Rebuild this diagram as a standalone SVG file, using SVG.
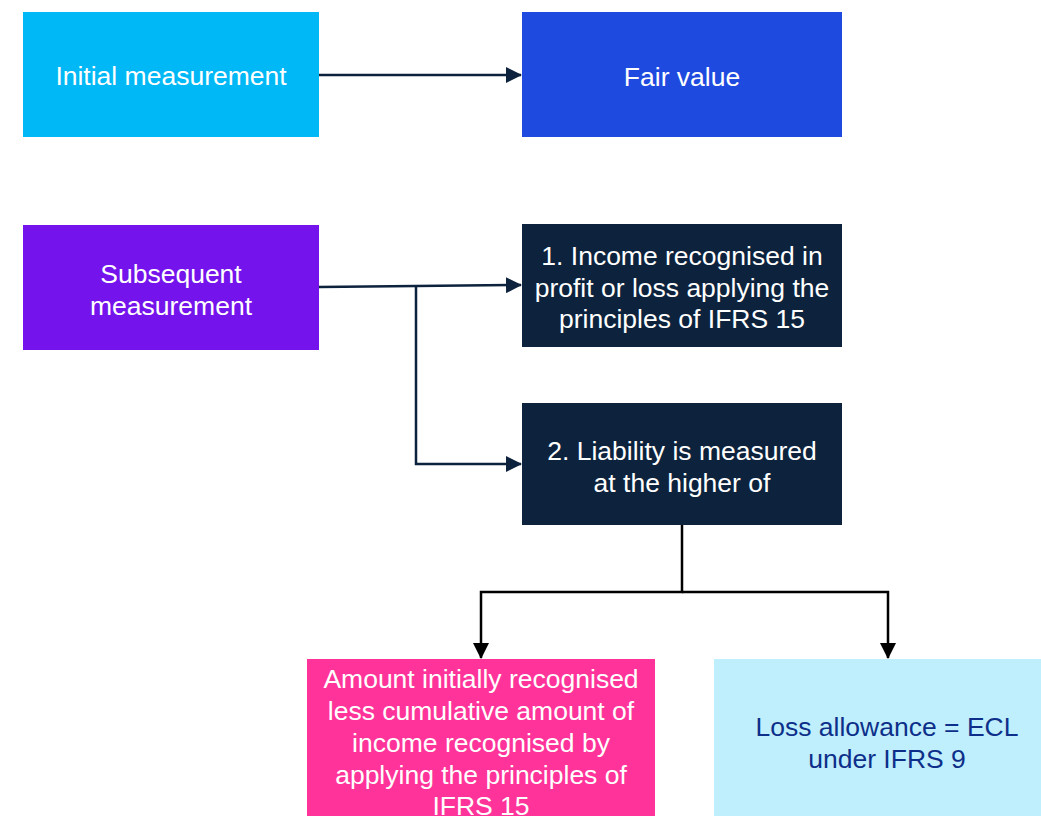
<svg xmlns="http://www.w3.org/2000/svg" width="1041" height="816" viewBox="0 0 1041 816">
<style>
text{font-family:"Liberation Sans",Arial,sans-serif;font-size:26.5px;text-anchor:middle;fill:#ffffff}
.dk{fill:#0D2F8A}
.c{fill:none;stroke:#0D233D;stroke-width:2.5}
.k{fill:none;stroke:#000000;stroke-width:2.5}
</style>
<defs>
<marker id="b" markerWidth="16" markerHeight="16" refX="15" refY="8" orient="auto" markerUnits="userSpaceOnUse" viewBox="0 0 16 16"><path d="M0,0L16,8L0,16z" fill="#000"/></marker>
<marker id="m" markerWidth="16" markerHeight="16" refX="15" refY="8" orient="auto" markerUnits="userSpaceOnUse" viewBox="0 0 16 16"><path d="M0,0L16,8L0,16z" fill="#0D233D"/></marker>
</defs>
<g id="connectors">
<path class="c" d="M319,75H521" marker-end="url(#m)"/>
<path class="c" d="M319,287L416,286L521,285" marker-end="url(#m)"/>
<path class="c" d="M416,286V464H521" marker-end="url(#m)"/>
<path class="k" d="M682,525V592H481V658" marker-end="url(#b)"/>
<path class="k" d="M682,592H888V658" marker-end="url(#b)"/>
</g>
<g id="n1"><rect x="23" y="12" width="296" height="125" fill="#00B8F5"/><text x="171" y="85">Initial measurement</text></g>
<g id="n2"><rect x="522" y="12" width="320" height="125" fill="#1F4AE0"/><text x="682" y="86">Fair value</text></g>
<g id="n3"><rect x="23" y="225" width="296" height="125" fill="#7413EB"/><text x="171" y="283">Subsequent</text><text x="171" y="315">measurement</text></g>
<g id="n4"><rect x="522" y="224" width="320" height="123" fill="#0D233D"/><text x="682" y="265">1. Income recognised in</text><text x="682" y="297">profit or loss applying the</text><text x="682" y="328">principles of IFRS 15</text></g>
<g id="n5"><rect x="522" y="403" width="320" height="122" fill="#0D233D"/><text x="682" y="460">2. Liability is measured</text><text x="682" y="492">at the higher of</text></g>
<g id="n6"><rect x="307" y="659" width="348" height="157" fill="#FF3399"/><text x="481" y="688">Amount initially recognised</text><text x="481" y="720">less cumulative amount of</text><text x="481" y="752">income recognised by</text><text x="481" y="784">applying the principles of</text><text x="481" y="815">IFRS 15</text></g>
<g id="n7"><rect x="714" y="659" width="327" height="157" fill="#BFEFFC"/><text class="dk" x="887" y="736">Loss allowance = ECL</text><text class="dk" x="887" y="768">under IFRS 9</text></g>
</svg>
